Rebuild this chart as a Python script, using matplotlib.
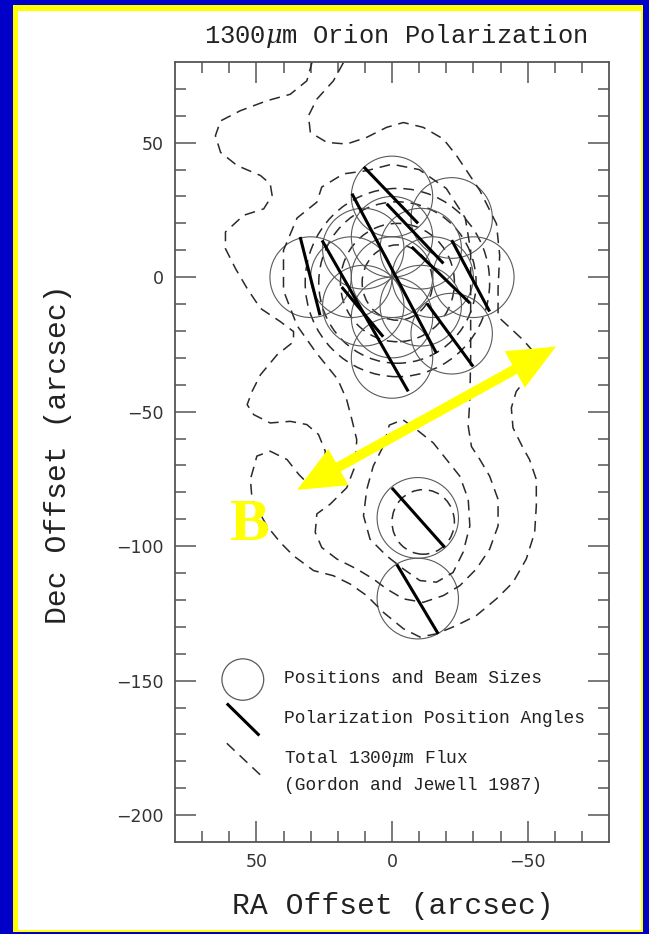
import matplotlib.pyplot as plt
from matplotlib.patches import Circle, Ellipse, FancyArrowPatch, Rectangle
import numpy as np

plt.rcParams['mathtext.fontset'] = 'dejavuserif'

W, H = 649, 934

# beam positions (RA, Dec offsets in arcsec), beam radius
beam_ra = [0, 15, 10.6, 0, -10.6, -15, -10.6, 0, 10.6, 30, 0, -22, -30, -22, 0, -9.5, -9.5]
beam_dec = [0, 0, 10.6, 15, 10.6, 0, -10.6, -15, -10.6, 0, 30, 22, 0, -21, -30, -89.5, -119.5]
beam_r = 15

# polarization vectors: centre, length (arcsec), position angle (deg E of N)
vec_ra = [0.4, -8.5, -0.8, 30.2, 9.9, -18.0, -29.0, -21.4, 10.9, -9.7, -9.4]
vec_dec = [30.5, 16.2, 1.4, 0.4, -14.4, 0.8, 0.5, -21.5, -12.9, -89.4, -119.7]
vec_len = [29, 30.5, 67, 30, 64.5, 30, 30, 29, 24, 29.5, 30]
vec_pa = [43.6, 43.3, 27.7, 14.1, 29.5, 45.8, 27.8, 36, 39.6, 41.4, 30.6]

# 1300um flux contours (Gordon & Jewell 1987), traced as (RA, Dec)
contour_outer = [
    (17.9, 79.8), (21.6, 73), (27.7, 66.2), (30.8, 60), (30.1, 53.8), (24, 50.1),
    (16.7, 49.5), (9.3, 52), (2, 55.7), (-4.2, 57.5), (-11.5, 55.7), (-18.9, 51.4),
    (-23.8, 45.2), (-27.5, 39.6), (-32.4, 32.2), (-38.5, 19.9), (-39.7, 8.1),
    (-39.1, -4.2), (-39.1, -14.7), (-48.3, -23.3), (-53.2, -28.9), (-50.7, -36.3),
    (-45.8, -42.5), (-44, -48.6), (-44.6, -56), (-48.3, -63.5), (-50.7, -67.8),
    (-53.2, -75.2), (-53.2, -85), (-52.6, -94.9), (-49.5, -104.8), (-44.6, -113.5),
    (-38.5, -119.6), (-31.1, -125.8), (-23.8, -129.5), (-16.4, -132.6), (-10.3, -133.8),
    (-4.2, -130.7), (3.2, -124.6), (9.3, -118.4), (15.4, -114.1), (21.6, -111),
    (28.9, -109.1), (36.3, -103.6), (41.2, -98.6), (46.1, -92.5), (51.6, -82.6),
    (52.2, -75.2), (49.8, -66.5), (44.9, -64.7), (38.7, -67.8), (34.4, -73.3),
    (30.1, -77.7), (25, -73), (24.6, -64.7), (27.1, -58.5), (31.4, -54.8),
    (37.5, -53.6), (44.9, -54.2), (51, -51.1), (53.4, -47.4), (51.6, -42.5),
    (48.5, -36.3), (42.4, -28.9), (36.3, -24), (36.3, -20.2), (41.2, -16.5),
    (48.5, -11.6), (53.4, -4.2), (57.7, 3.2), (61.4, 10.6), (61.4, 16.8), (54.7, 23),
    (47.3, 25.4), (44.2, 30.4), (44.9, 34.7), (48.5, 37.8), (57.1, 41.5), (63.2, 46.4),
    (65.1, 52.6), (63.2, 58.1), (55.9, 61.9), (46.1, 65.6), (37.5, 68), (31.4, 73),
    (29.5, 79.8),
]
contour_mid = [
    (16.7, -45.6), (14.8, -52.9), (13, -60.4), (13.6, -70.2), (16.7, -78.3),
    (22.8, -84.4), (27.7, -88), (28.3, -94.9), (25.9, -100.5), (20.3, -104.8),
    (13, -108.5), (6.9, -112.2), (2, -115.9), (-4.2, -119.6), (-11.5, -120.9),
    (-18.9, -118.4), (-25, -114.7), (-31.1, -108.5), (-36, -101.1), (-39.1, -92.5),
    (-39.1, -82.6), (-36, -74), (-32.4, -67.8), (-29.3, -63), (-28.1, -55.4),
    (-28.7, -45.6), (-29, -30), (-29, -15), (-29, 0), (-29, 10), (-27, 22),
    (-20, 33), (-10, 40), (0, 42), (9.3, 39.6), (17.9, 38.4), (25.9, 33.5),
    (27.7, 27.9), (35, 22), (40, 10), (40, -5), (35, -18), (28, -28), (20, -38),
    (16.7, -45.6),
]
contour_inner = [
    (3.2, -62.8), (6.9, -70.2), (9.3, -78.9), (10.5, -88.7), (8.1, -97.4),
    (2, -103.6), (-4.2, -108.5), (-10.3, -112.8), (-16.4, -113.4), (-22.5, -109.8),
    (-26.2, -102.3), (-28.7, -92.5), (-28.1, -82.6), (-25, -74), (-20.1, -67.8),
    (-15.2, -61.6), (-9.1, -56.7), (-4, -53), (1, -55), (3.2, -62.8),
]
# closed contours drawn as ellipses: centre RA, centre Dec, width, height
ell_ra = [-11.5, -2, -2, -2, -2]
ell_dec = [-91, -2, -2, -2, -2]
ell_w = [23, 68, 58, 42, 26]
ell_h = [24, 70, 60, 44, 28]

fig = plt.figure(figsize=(W / 100, H / 100), dpi=100)
fig.patch.set_facecolor('#0000c8')
fig.patches.append(Rectangle((13 / W, 2 / H), 630 / W, 927 / H, transform=fig.transFigure,
                             facecolor='#ffff00', edgecolor='none', zorder=-3))
fig.patches.append(Rectangle((18 / W, 4 / H), 623 / W, 919 / H, transform=fig.transFigure,
                             facecolor='white', edgecolor='none', zorder=-2))

ax = fig.add_axes([175 / W, 1 - 842 / H, 434 / W, 780 / H])
ax.set_xlim(80, -80)
ax.set_ylim(-210, 80)
ax.set_facecolor('white')

dash = dict(color='#2a2a2a', lw=1.1, dashes=(7, 4.5))
for c in [contour_outer, contour_mid, contour_inner]:
    c = np.array(c)
    ax.plot(c[:, 0], c[:, 1], **dash)
for x, y, w, h in zip(ell_ra, ell_dec, ell_w, ell_h):
    e = Ellipse((x, y), w, h, fill=False, edgecolor='#2a2a2a', lw=1.1, linestyle=(0, (7, 4.5)))
    ax.add_patch(e)

for x, y in zip(beam_ra, beam_dec):
    ax.add_patch(Circle((x, y), beam_r, fill=False, edgecolor='#5a5a5a', lw=0.8))

for x, y, L, pa in zip(vec_ra, vec_dec, vec_len, vec_pa):
    dx = 0.5 * L * np.sin(np.radians(pa))
    dy = 0.5 * L * np.cos(np.radians(pa))
    ax.plot([x + dx, x - dx], [y + dy, y - dy], color='black', lw=2.2, solid_capstyle='butt')

# magnetic field direction, double headed
tip_a = (35, -79.1)
tip_b = (-60.5, -25.8)
mid = ((tip_a[0] + tip_b[0]) / 2, (tip_a[1] + tip_b[1]) / 2)
for tip in (tip_a, tip_b):
    ax.add_patch(FancyArrowPatch(mid, tip, arrowstyle='simple,head_length=34,head_width=30,tail_width=7.2',
                                 mutation_scale=1, color='#ffff00', lw=0, shrinkA=0, shrinkB=0, zorder=5))
ax.text(52.9, -92.5, 'B', color='#ffff00', fontsize=43, fontweight='bold',
        family='Liberation Serif', ha='center', va='center', zorder=6)

# key
ax.add_patch(Circle((55, -149.6), 7.7, fill=False, edgecolor='#5a5a5a', lw=0.9))
ax.plot([60.9, 48.9], [-158.5, -170.4], color='black', lw=2.2, solid_capstyle='butt')
ax.plot([60.9, 48.5], [-173.3, -185.1], **dash)
key_font = dict(family='Liberation Mono', fontsize=12.9, color='#222222', ha='left', va='center')
ax.text(40, -149.3, 'Positions and Beam Sizes', **key_font)
ax.text(40, -164, 'Polarization Position Angles', **key_font)
ax.text(40, -178.9, r'Total 1300$\mu$m Flux', **key_font)
ax.text(40, -188.9, '(Gordon and Jewell 1987)', **key_font)

ax.set_xticks([50, 0, -50])
ax.set_yticks([50, 0, -50, -100, -150, -200])
ax.set_xticks(np.arange(-70, 80, 10), minor=True)
ax.set_yticks(np.arange(-200, 80, 10), minor=True)
ax.tick_params(which='both', direction='in', top=True, right=True, color='#555555', width=1.1,
               labelsize=12.5, labelcolor='#333333', pad=8)
ax.tick_params(which='major', length=15)
ax.tick_params(which='minor', length=8)
for s in ax.spines.values():
    s.set_color('#555555')
    s.set_linewidth(1.3)

fig.text(396 / W, 1 - 36 / H, r'1300$\mu$m Orion Polarization', family='Liberation Mono',
         fontsize=18.4, color='#222222', ha='center', va='center')
fig.text(393 / W, 1 - 906 / H, 'RA Offset (arcsec)', family='Liberation Mono',
         fontsize=21.4, color='#222222', ha='center', va='center')
fig.text(58 / W, 1 - 454 / H, 'Dec Offset (arcsec)', family='Liberation Mono',
         fontsize=21.4, color='#222222', ha='center', va='center', rotation=90)

fig.savefig('out.png', dpi=100, facecolor=fig.get_facecolor())
